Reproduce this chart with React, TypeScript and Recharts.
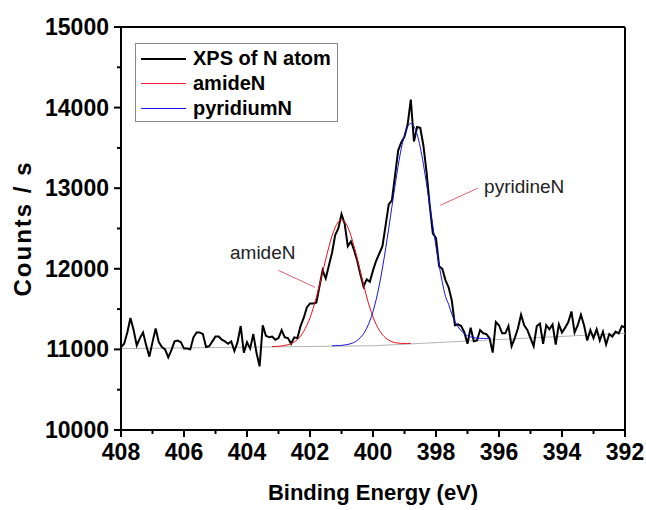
import React from "react"
import {
  LineChart,
  Line,
  XAxis,
  YAxis,
  Legend,
  ReferenceLine,
  ReferenceDot,
} from "recharts"

if (typeof document !== "undefined") document.body.style.margin = "0"

// measured spectrum, 408.0 -> 392.0 eV every 0.1 eV
const xpsStart = 408
const xpsStep = 0.1
const xpsCounts = [
  11030, 11070, 11210, 11390, 11240, 11050, 11140, 11210, 11050, 10910,
  11090, 11260, 11090, 11030, 11000, 10900, 10990, 11100, 11110, 11090,
  11010, 11010, 11000, 11150, 11210, 11210, 11190, 11030, 11040, 11100,
  11160, 11160, 11120, 11100, 11070, 11100, 10980, 11090, 11290, 10960,
  11090, 11010, 11190, 10960, 10790, 11300, 11170, 11150, 11160, 11120,
  11140, 11240, 11150, 11140, 11070, 11150, 11140, 11290, 11390, 11520,
  11570, 11570, 11580, 11780, 11980, 11880, 12040, 12200, 12420, 12500,
  12680, 12560, 12280, 12340, 12230, 12100, 11930, 11780, 11870, 11840,
  11980, 12100, 12190, 12280, 12540, 12800, 12850, 13160, 13470, 13570,
  13640, 13790, 14100, 13580, 13760, 13750, 13530, 13200, 12790, 12440,
  12380, 12030, 12000, 11860, 11770, 11610, 11300, 11310, 11290, 11210,
  11070, 11270, 11100, 11110, 11240, 11200, 11190, 11140, 10960, 11340,
  11300, 11200, 11200, 11290, 11040, 11140, 11260, 11430, 11300, 11240,
  11140, 11040, 11290, 11320, 11070, 11300, 11250, 11310, 11060, 11310,
  11210, 11270, 11340, 11470, 11210, 11300, 11430, 11300, 11110, 11240,
  11140, 11250, 11110, 11220, 11060, 11190, 11160, 11220, 11200, 11290,
  11270,
]

// amideN fitted peak, 403.2 -> 398.8 eV
const amideStart = 403.2
const amideCounts = [
  11035, 11037, 11039, 11043, 11049, 11058, 11071, 11092, 11122, 11165,
  11223, 11299, 11393, 11509, 11643, 11795, 11956, 12119, 12272, 12409,
  12514, 12582, 12605, 12583, 12516, 12412, 12276, 12124, 11962, 11802,
  11651, 11518, 11403, 11311, 11238, 11182, 11142, 11114, 11095, 11084,
  11078, 11074, 11073, 11073, 11074,
]

// pyridiniumN fitted peak, 401.3 -> 396.3 eV
const pyridStart = 401.3
const pyridCounts = [
  11045, 11046, 11048, 11050, 11055, 11061, 11072, 11087, 11112, 11146,
  11195, 11262, 11353, 11470, 11617, 11797, 12009, 12246, 12503, 12770,
  13034, 13282, 13497, 13660, 13765, 13803, 13768, 13667, 13508, 13297,
  13053, 12793, 12530, 12276, 12042, 11834, 11658, 11560, 11440, 11350,
  11280, 11230, 11195, 11170, 11155, 11145, 11140, 11137, 11136, 11136,
  11136,
]

const baseEnergy = [408, 400, 392]
const baseCounts = [11010, 11045, 11200]

const xMajor = [408, 406, 404, 402, 400, 398, 396, 394, 392]
const xTicks = [408, 407, 406, 405, 404, 403, 402, 401, 400, 399, 398, 397, 396, 395, 394, 393, 392]
const yTicks = [10000, 10500, 11000, 11500, 12000, 12500, 13000, 13500, 14000, 14500, 15000]

const toSeries = (start: number, values: number[]) =>
  values.map((c, i) => ({ e: +(start - i * xpsStep).toFixed(1), c }))

const xpsData = toSeries(xpsStart, xpsCounts)
const amideData = toSeries(amideStart, amideCounts)
const pyridData = toSeries(pyridStart, pyridCounts)
const baseData = baseEnergy.map((e, i) => ({ e, c: baseCounts[i] }))

const legendItems = [
  { name: "XPS of N atom", color: "#000000", width: 2 },
  { name: "amideN", color: "#ee2030", width: 1 },
  { name: "pyridiumN", color: "#1818e8", width: 1 },
]

const font = "'Liberation Sans', Arial, sans-serif"

function XTick({ x, y, payload }: any) {
  const major = xMajor.includes(payload.value)
  return (
    <g>
      <line x1={x} y1={y} x2={x} y2={y + (major ? 7 : 4)} stroke="#000" strokeWidth={2} />
      {major && (
        <text x={x} y={y + 30} textAnchor="middle" fontSize={23} fontWeight="bold" fill="#000" fontFamily={font}>
          {payload.value}
        </text>
      )}
    </g>
  )
}

function YTick({ x, y, payload }: any) {
  const major = payload.value % 1000 === 0
  return (
    <g>
      <line x1={x} y1={y} x2={x - (major ? 7 : 4)} y2={y} stroke="#000" strokeWidth={2} />
      {major && (
        <text x={x - 12} y={y + 8} textAnchor="end" fontSize={23} fontWeight="bold" fill="#000" fontFamily={font}>
          {payload.value}
        </text>
      )}
    </g>
  )
}

function LegendBox() {
  return (
    <div
      style={{
        width: 201,
        height: 75,
        border: "1px solid #8a8a8a",
        background: "#fff",
        paddingTop: 2,
        boxSizing: "content-box",
        fontFamily: font,
      }}
    >
      {legendItems.map((it) => (
        <div key={it.name} style={{ height: 25, display: "flex", alignItems: "center" }}>
          <div style={{ width: 45, marginLeft: 5, height: it.width, background: it.color }} />
          <span style={{ marginLeft: 7, fontSize: 20, fontWeight: "bold", color: "#000", lineHeight: "25px" }}>
            {it.name}
          </span>
        </div>
      ))}
    </div>
  )
}

export default function App() {
  return (
    <div style={{ width: 646, height: 510, background: "#fff" }}>
      <LineChart
        width={646}
        height={510}
        margin={{ top: 27, right: 21, left: 0, bottom: 0 }}
        style={{ fontFamily: font }}
      >
        <XAxis
          type="number"
          dataKey="e"
          domain={[392, 408]}
          reversed
          ticks={xTicks}
          interval={0}
          height={80}
          tickSize={0}
          tickMargin={0}
          tickLine={false}
          tick={<XTick />}
          axisLine={{ stroke: "#000", strokeWidth: 2 }}
          allowDataOverflow
          label={{
            value: "Binding Energy (eV)",
            position: "insideBottom",
            offset: 10,
            fontSize: 22,
            fontWeight: "bold",
            fill: "#000",
          }}
        />
        <YAxis
          type="number"
          domain={[10000, 15000]}
          ticks={yTicks}
          interval={0}
          width={121}
          tickSize={0}
          tickMargin={0}
          tickLine={false}
          tick={<YTick />}
          axisLine={{ stroke: "#000", strokeWidth: 2 }}
          allowDataOverflow
          label={{
            value: "Counts / s",
            angle: -90,
            position: "insideLeft",
            offset: 22,
            fontSize: 24,
            fontWeight: "bold",
            fill: "#000",
            style: { textAnchor: "middle", letterSpacing: 2 },
          }}
        />
        <ReferenceLine y={15000} stroke="#000" strokeWidth={2} />
        <ReferenceLine x={392} stroke="#000" strokeWidth={2} />

        <Line data={baseData} dataKey="c" type="linear" stroke="#b4b4b4" strokeWidth={1} dot={false} activeDot={false} isAnimationActive={false} />
        <Line data={xpsData} dataKey="c" type="linear" stroke="#000" strokeWidth={2} dot={false} activeDot={false} isAnimationActive={false} />
        <Line data={amideData} dataKey="c" type="monotone" stroke="#e8101a" strokeWidth={1} dot={false} activeDot={false} isAnimationActive={false} />
        <Line data={pyridData} dataKey="c" type="monotone" stroke="#1414e0" strokeWidth={1} dot={false} activeDot={false} isAnimationActive={false} />

        <ReferenceLine segment={[{ x: 403.0, y: 11980 }, { x: 401.84, y: 11770 }]} stroke="#e06070" strokeWidth={1} />
        <ReferenceLine segment={[{ x: 397.87, y: 12787 }, { x: 396.67, y: 13000 }]} stroke="#e06070" strokeWidth={1} />
        <ReferenceDot
          x={403.5}
          y={12200}
          r={0}
          fill="none"
          stroke="none"
          label={{ value: "amideN", position: "center", fontSize: 19, fill: "#222" }}
        />
        <ReferenceDot
          x={395.2}
          y={13020}
          r={0}
          fill="none"
          stroke="none"
          label={{ value: "pyridineN", position: "center", fontSize: 19, fill: "#222" }}
        />

        <Legend
          layout="vertical"
          align="center"
          verticalAlign="middle"
          content={() => <LegendBox />}
          wrapperStyle={{ left: 135, top: 43, width: 203, height: 77 }}
        />
      </LineChart>
    </div>
  )
}
